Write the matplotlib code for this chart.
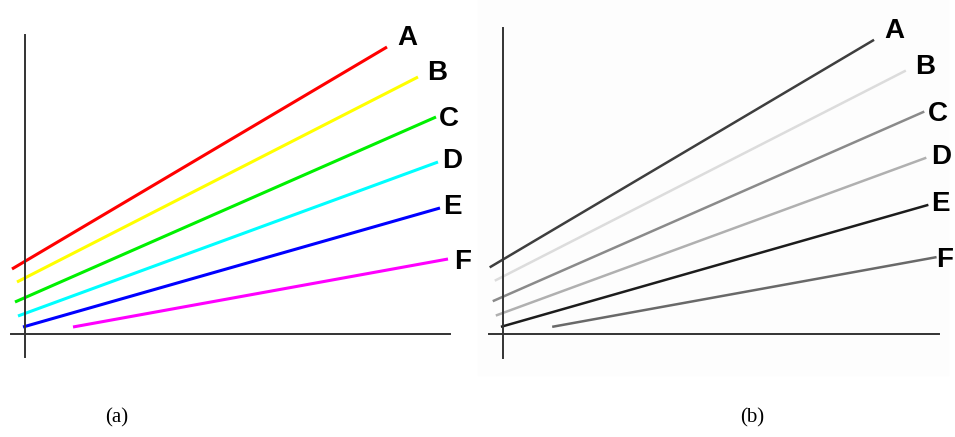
import matplotlib
matplotlib.use("Agg")
from matplotlib import pyplot
from matplotlib.patches import Rectangle

# one set of lines, drawn twice: in colour (a) and in grey (b)
names = ['A', 'B', 'C', 'D', 'E', 'F']
x_start = [-13, -8, -10, -7, -2, 48]
y_start = [65, 52, 32, 18, 7, 7]
x_end = [362, 393, 411, 413, 415, 423]
y_end = [287, 257, 217, 172, 126, 75]

colours = ['#ff0000', '#ffff00', '#00f000', '#00ffff', '#0000ff', '#ff00ff']
greys = ['#3e3e3e', '#dcdcdc', '#8a8a8a', '#b0b0b0', '#1c1c1c', '#696969']

# label anchor (centre x, baseline y) next to each line end
label_x = [382, 412, 424, 427, 427, 438]
label_y = [289, 254, 208, 166, 120, 65]

W, H = 955, 437
fig = pyplot.figure(figsize=(W / 100, H / 100), dpi=100)
fig.patches.append(Rectangle((478 / W, 1 - 375 / H), 470 / W, 375 / H,
                             transform=fig.transFigure, color='#fdfdfd', zorder=-5))


def place(ox, oy, s):
  # axes box so that data (0, 0) lands on pixel (ox, oy), s pixels per unit
  return [(ox - 25 * s) / W, (H - oy - 103 * s) / H, 480 * s / W, 437 * s / H]


def panel(rect, cols, lw, tag, tag_x):
  ax = fig.add_axes(rect)
  ax.set_facecolor('none')
  ax.set_xlim(-25, 455)
  ax.set_ylim(-103, 334)
  renderer = fig.canvas.get_renderer()
  for i in range(len(names)):
    ax.plot([x_start[i], x_end[i]], [y_start[i], y_end[i]], color=cols[i],
            lw=lw, solid_capstyle='butt', clip_on=False)
    t = ax.text(label_x[i], label_y[i], names[i], ha='center', va='baseline',
                family='Liberation Sans', weight='bold', fontsize=20, clip_on=False)
    # keep the letter inside the figure
    over = t.get_window_extent(renderer).x1 - (W - 2)
    if over > 0:
      x_px = ax.transData.transform((label_x[i], 0))[0] - over
      t.set_x(ax.transData.inverted().transform((x_px, 0))[0])
  for side in ['top', 'right']:
    ax.spines[side].set_visible(False)
  ax.spines['left'].set_position(('data', 0))
  ax.spines['bottom'].set_position(('data', 0))
  ax.spines['left'].set_bounds(-23, 299)
  ax.spines['bottom'].set_bounds(-14, 425)
  for side in ['left', 'bottom']:
    ax.spines[side].set_color('#333333')
    ax.spines[side].set_linewidth(1.4)
  ax.set_xticks([])
  ax.set_yticks([])
  fig.text(tag_x / W, 1 - 418 / H, tag, ha='center', va='center',
           family='Liberation Serif', fontsize=15)
  return ax


panel(place(25, 334, 1.0), colours, 2.2, '(a)', 117)
panel(place(503, 334, 1.025), greys, 1.8, '(b)', 752)

fig.savefig('out.png', dpi=100)
